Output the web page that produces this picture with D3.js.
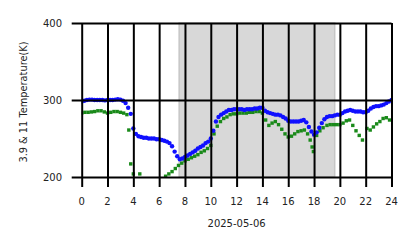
<!DOCTYPE html>
<html>
<head>
<meta charset="utf-8">
<script src="https://cdn.jsdelivr.net/npm/d3@7"></script>
<style>
    body { margin: 0; background: #fff; }
    text { font-family: "DejaVu Sans", sans-serif; fill: #222; }
</style>
</head>
<body>
<div id="chart"></div>
<script>
// 3.9 um channel (blue)
const blueHours = d3.range(0, 121).map(i => i * 0.2);
const blueTemp = [
    298, 299, 300, 300.5, 300.5, 300, 300, 300, 300, 299.5,
    300, 300, 300, 300.5, 301, 300.5, 299, 296, 290, 282,
    263, 256, 253, 252, 251, 251, 250, 250, 250, 249,
    249, 248, 247, 246, 244, 240, 233, 227, 223, 224,
    226, 228, 230, 232, 234, 237, 239, 241, 244, 246,
    250, 260, 272, 278, 281, 283, 285, 287, 287, 288,
    288, 288, 288, 287, 288, 288, 288, 289, 289, 290,
    290, 286, 284, 283, 282, 281, 281, 280, 278, 276,
    273, 272, 272, 272, 272, 273, 274, 271, 265, 259,
    255, 258, 264, 270, 275, 278, 279, 279, 280, 281,
    281, 283, 285, 286, 287, 286, 285, 285, 285, 284,
    284, 286, 289, 291, 292, 292, 293, 294, 296, 298,
    300
];

// 11 um channel (green)
const greenHours = [
    0, 0.25, 0.5, 0.75, 1, 1.25, 1.5, 1.75, 2, 2.25, 2.5, 2.75, 3, 3.25, 3.5,
    3.65, 3.8, 4.0, 4.5,
    6.5, 6.75, 7, 7.25, 7.5, 7.75, 8, 8.25, 8.5, 8.75, 9, 9.25, 9.5, 9.75, 10,
    10.25, 10.5, 10.75, 11, 11.25, 11.5, 11.75, 12, 12.25, 12.5, 12.75, 13, 13.25,
    13.5, 13.75, 14, 14.25, 14.5, 14.75, 15, 15.25, 15.5, 15.75, 16, 16.25, 16.5,
    16.75, 17, 17.25, 17.5, 17.7, 17.85, 17.95, 18.2, 18.45, 18.7, 19, 19.25,
    19.5, 19.75, 20, 20.25, 20.5, 20.75, 21, 21.25, 21.5, 21.75, 22.1, 22.35, 22.6,
    22.85, 23.1, 23.35, 23.6, 23.85
];
const greenTemp = [
    283, 284, 284, 284.5, 285, 286, 286, 284.5, 283, 284, 285, 285, 284, 283, 281,
    261, 217, 204, 204,
    201, 204, 207, 211, 215, 218, 221, 223, 225, 227, 229, 232, 234, 237, 241,
    256, 266, 272, 276, 278, 281, 282, 282, 283, 283, 283, 284, 284,
    285, 285, 283, 274, 267, 270, 272, 268, 262, 256, 252, 253, 256,
    259, 260, 261, 256, 248, 239, 233, 254, 260, 264, 267, 268,
    268, 268, 268, 270, 273, 274, 267, 260, 254, 248, 263, 261, 265,
    269, 272, 276, 277, 274
];

const nightSpan = [7.55, 19.6];
const xTicks = d3.range(0, 25, 2);
const yTicks = [200, 300, 400];
const dateLabel = "2025-05-06";
const yLabel = "3.9 & 11 Temperature(K)";

const width = 418, height = 248;
const margin = { top: 23, right: 26.5, bottom: 71, left: 81.7 };

const svg = d3.select("#chart")
    .append("svg")
        .attr("width", width)
        .attr("height", height);

const x = d3.scaleLinear()
    .domain([0, 24])
    .range([margin.left, width - margin.right]);

const y = d3.scaleLinear()
    .domain([200, 400])
    .range([height - margin.bottom, margin.top]);

svg.append("clipPath")
        .attr("id", "plot-clip")
    .append("rect")
        .attr("x", x(0))
        .attr("y", y(400))
        .attr("width", x(24) - x(0))
        .attr("height", y(200) - y(400));

// shaded span
svg.append("rect")
    .attr("x", x(nightSpan[0]))
    .attr("y", y(400))
    .attr("width", x(nightSpan[1]) - x(nightSpan[0]))
    .attr("height", y(200) - y(400))
    .attr("fill", "#d8d8d8")
    .attr("stroke", "#c6c6c6")
    .attr("stroke-width", 1.5);

const plot = svg.append("g").attr("clip-path", "url(#plot-clip)");

plot.selectAll("rect.green")
    .data(greenHours.map((h, i) => [h, greenTemp[i]]))
    .enter()
    .append("rect")
        .classed("green", true)
        .attr("x", d => x(d[0]) - 1.7)
        .attr("y", d => y(d[1]) - 1.7)
        .attr("width", 3.4)
        .attr("height", 3.4)
        .attr("fill", "#1a8a1a");

plot.selectAll("circle.blue")
    .data(blueHours.map((h, i) => [h, blueTemp[i]]))
    .enter()
    .append("circle")
        .classed("blue", true)
        .attr("cx", d => x(d[0]))
        .attr("cy", d => y(d[1]))
        .attr("r", 2.2)
        .attr("fill", "#1010ff");

// grid lines with outward ticks
svg.append("g")
    .attr("transform", `translate(0, ${y(200)})`)
    .call(d3.axisBottom(x)
        .tickValues(xTicks)
        .tickSize(y(400) - y(200))
        .tickPadding(0)
        .tickFormat(""))
    .call(g => g.select(".domain").remove())
    .call(g => g.selectAll("line")
        .attr("y1", 10)
        .attr("stroke", "#000")
        .attr("stroke-width", 2));

svg.append("g")
    .attr("transform", `translate(${x(24)}, 0)`)
    .call(d3.axisLeft(y)
        .tickValues(yTicks)
        .tickSize(x(24) - x(0) + 10)
        .tickFormat(""))
    .call(g => g.select(".domain").remove())
    .call(g => g.selectAll("line")
        .attr("stroke", "#000")
        .attr("stroke-width", 2));

// tick labels
svg.append("g")
    .selectAll("text")
    .data(xTicks)
    .enter()
    .append("text")
        .attr("x", d => x(d))
        .attr("y", 205)
        .attr("text-anchor", "middle")
        .attr("font-size", 10)
        .text(d => d);

svg.append("g")
    .selectAll("text")
    .data(yTicks)
    .enter()
    .append("text")
        .attr("x", 62)
        .attr("y", d => y(d) + 3.6)
        .attr("text-anchor", "end")
        .attr("font-size", 10)
        .text(d => d);

svg.append("text")
    .attr("x", (x(0) + x(24)) / 2)
    .attr("y", 227)
    .attr("text-anchor", "middle")
    .attr("font-size", 10)
    .text(dateLabel);

svg.append("text")
    .attr("transform", `translate(27, ${(y(200) + y(400)) / 2 + 2}) rotate(-90)`)
    .attr("text-anchor", "middle")
    .attr("font-size", 9.8)
    .text(yLabel);
</script>
</body>
</html>
